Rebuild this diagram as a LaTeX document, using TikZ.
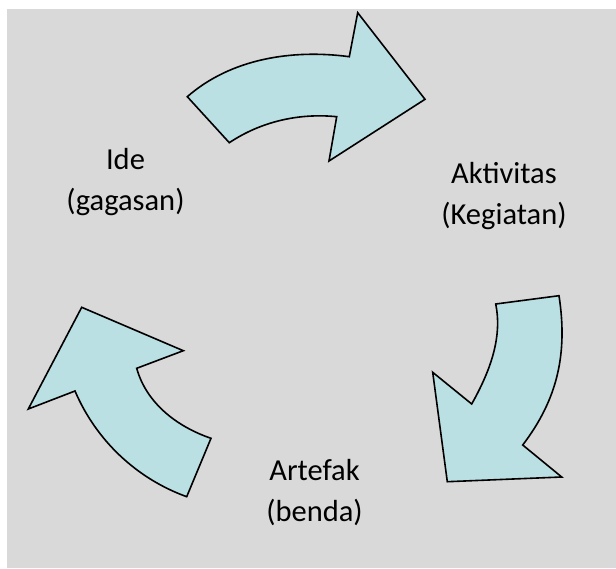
\documentclass[tikz,border=0pt]{standalone}
\usepackage{fontspec}
\setmainfont{Carlito}
\definecolor{bggray}{HTML}{D9D9D9}
\definecolor{arrowfill}{HTML}{BAE0E3}
\tikzset{
  cyclearrow/.style={draw=black, line width=1.6pt, fill=arrowfill, line join=miter},
  lbl/.style={align=center, inner sep=0pt, font=\fontsize{30.5}{41}\selectfont, text=black}
}
\begin{document}
\begin{tikzpicture}[x=1pt,y=-1pt]
\useasboundingbox (0,0) rectangle (616,568);
\fill[bggray] (7,9) rectangle (616,568);
% top arrow
\path[cyclearrow] (187.3,96.7) .. controls (230.7,58.7) and (292.1,49) .. (349.3,56.7)
  -- (357.7,12.7) -- (425,99.3) -- (329,161) -- (336.7,116.7)
  .. controls (298.9,112.9) and (260.9,121.6) .. (229.3,142.7) -- cycle;
% right arrow
\path[cyclearrow] (559,295.7) -- (495.7,304)
  .. controls (502.8,338.7) and (489,373.1) .. (471.7,404)
  -- (432.7,372.3) -- (447.3,481.7) -- (561.7,477) -- (522.7,445)
  .. controls (557.9,398.9) and (567.8,353) .. (559,295.7) -- cycle;
% left arrow
\path[cyclearrow] (81.7,307.3) -- (183.3,350.7) -- (136.7,368.3)
  .. controls (146.4,403.1) and (176.8,426.6) .. (211,438.3)
  -- (186.7,496.7) .. controls (136.4,478.5) and (96,440.2) .. (75,391)
  -- (28.3,409) -- cycle;
\node[lbl] (ide) at (125.5,182.5) {Ide\\(gagasan)};
\node[lbl] (akt) at (504,196.5) {Aktivitas\\(Kegiatan)};
\node[lbl] (art) at (314.5,492.5) {Artefak\\(benda)};
\end{tikzpicture}
\end{document}
